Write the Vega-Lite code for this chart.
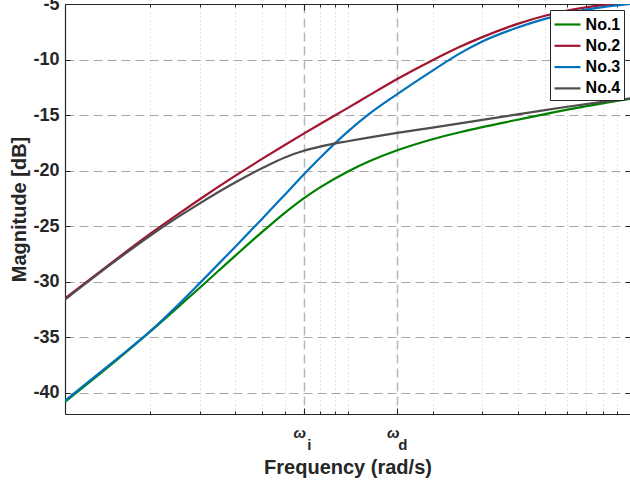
{
  "$schema": "https://vega.github.io/schema/vega-lite/v6.json",
  "width": 565,
  "height": 410,
  "autosize": {"type": "none"},
  "padding": {"left": 65, "top": 4, "right": 0, "bottom": 69},
  "background": "white",
  "config": {
    "view": {"stroke": null},
    "font": "Liberation Sans"
  },
  "data": {
    "values": [
      {"f": 1, "mag": -40.8, "s": "No.1"}, {"f": 1.5, "mag": -37.19, "s": "No.1"}, {"f": 2, "mag": -34.5, "s": "No.1"}, {"f": 2.5, "mag": -32.32, "s": "No.1"}, {"f": 3, "mag": -30.54, "s": "No.1"}, {"f": 4, "mag": -27.67, "s": "No.1"}, {"f": 5, "mag": -25.49, "s": "No.1"}, {"f": 6, "mag": -23.79, "s": "No.1"}, {"f": 7, "mag": -22.49, "s": "No.1"}, {"f": 8, "mag": -21.5, "s": "No.1"}, {"f": 10, "mag": -20.09, "s": "No.1"}, {"f": 12, "mag": -19.14, "s": "No.1"}, {"f": 15, "mag": -18.17, "s": "No.1"}, {"f": 20, "mag": -17.17, "s": "No.1"}, {"f": 25, "mag": -16.54, "s": "No.1"}, {"f": 30, "mag": -16.08, "s": "No.1"}, {"f": 40, "mag": -15.42, "s": "No.1"}, {"f": 50, "mag": -14.91, "s": "No.1"}, {"f": 60, "mag": -14.51, "s": "No.1"}, {"f": 70, "mag": -14.2, "s": "No.1"}, {"f": 80, "mag": -13.94, "s": "No.1"}, {"f": 100, "mag": -13.55, "s": "No.1"},
      {"f": 1, "mag": -31.5, "s": "No.2"}, {"f": 1.5, "mag": -28.07, "s": "No.2"}, {"f": 2, "mag": -25.7, "s": "No.2"}, {"f": 2.5, "mag": -23.96, "s": "No.2"}, {"f": 3, "mag": -22.57, "s": "No.2"}, {"f": 4, "mag": -20.47, "s": "No.2"}, {"f": 5, "mag": -18.92, "s": "No.2"}, {"f": 6, "mag": -17.69, "s": "No.2"}, {"f": 7, "mag": -16.67, "s": "No.2"}, {"f": 8, "mag": -15.8, "s": "No.2"}, {"f": 10, "mag": -14.37, "s": "No.2"}, {"f": 12, "mag": -13.18, "s": "No.2"}, {"f": 15, "mag": -11.75, "s": "No.2"}, {"f": 20, "mag": -10.06, "s": "No.2"}, {"f": 25, "mag": -8.85, "s": "No.2"}, {"f": 30, "mag": -7.98, "s": "No.2"}, {"f": 40, "mag": -6.79, "s": "No.2"}, {"f": 50, "mag": -6.06, "s": "No.2"}, {"f": 60, "mag": -5.6, "s": "No.2"}, {"f": 70, "mag": -5.3, "s": "No.2"}, {"f": 80, "mag": -5.1, "s": "No.2"}, {"f": 100, "mag": -4.88, "s": "No.2"},
      {"f": 1, "mag": -40.7, "s": "No.3"}, {"f": 1.5, "mag": -37.09, "s": "No.3"}, {"f": 2, "mag": -34.47, "s": "No.3"}, {"f": 2.5, "mag": -32.14, "s": "No.3"}, {"f": 3, "mag": -30.12, "s": "No.3"}, {"f": 4, "mag": -26.87, "s": "No.3"}, {"f": 5, "mag": -24.3, "s": "No.3"}, {"f": 6, "mag": -22.16, "s": "No.3"}, {"f": 7, "mag": -20.35, "s": "No.3"}, {"f": 8, "mag": -18.84, "s": "No.3"}, {"f": 10, "mag": -16.51, "s": "No.3"}, {"f": 12, "mag": -14.85, "s": "No.3"}, {"f": 15, "mag": -13.11, "s": "No.3"}, {"f": 20, "mag": -10.99, "s": "No.3"}, {"f": 25, "mag": -9.44, "s": "No.3"}, {"f": 30, "mag": -8.37, "s": "No.3"}, {"f": 40, "mag": -7.12, "s": "No.3"}, {"f": 50, "mag": -6.34, "s": "No.3"}, {"f": 60, "mag": -5.84, "s": "No.3"}, {"f": 70, "mag": -5.51, "s": "No.3"}, {"f": 80, "mag": -5.28, "s": "No.3"}, {"f": 100, "mag": -4.99, "s": "No.3"},
      {"f": 1, "mag": -31.6, "s": "No.4"}, {"f": 1.5, "mag": -28.17, "s": "No.4"}, {"f": 2, "mag": -25.86, "s": "No.4"}, {"f": 2.5, "mag": -24.21, "s": "No.4"}, {"f": 3, "mag": -22.94, "s": "No.4"}, {"f": 4, "mag": -21.07, "s": "No.4"}, {"f": 5, "mag": -19.76, "s": "No.4"}, {"f": 6, "mag": -18.81, "s": "No.4"}, {"f": 7, "mag": -18.21, "s": "No.4"}, {"f": 8, "mag": -17.83, "s": "No.4"}, {"f": 10, "mag": -17.35, "s": "No.4"}, {"f": 12, "mag": -17.0, "s": "No.4"}, {"f": 15, "mag": -16.6, "s": "No.4"}, {"f": 20, "mag": -16.13, "s": "No.4"}, {"f": 25, "mag": -15.75, "s": "No.4"}, {"f": 30, "mag": -15.43, "s": "No.4"}, {"f": 40, "mag": -14.93, "s": "No.4"}, {"f": 50, "mag": -14.55, "s": "No.4"}, {"f": 60, "mag": -14.25, "s": "No.4"}, {"f": 70, "mag": -14.01, "s": "No.4"}, {"f": 80, "mag": -13.81, "s": "No.4"}, {"f": 100, "mag": -13.5, "s": "No.4"}
    ]
  },
  "layer": [
    {
      "mark": {"type": "line", "strokeWidth": 2.2, "interpolate": "monotone", "clip": true},
      "encoding": {
        "x": {
          "field": "f", "type": "quantitative",
          "scale": {"type": "log", "domain": [1, 100], "nice": false},
          "axis": {
            "orient": "bottom",
            "values": [2, 3, 4, 5, 6, 7, 8, 9, 10, 15, 20, 30, 40, 50, 60, 70, 80, 90],
            "title": "Frequency (rad/s)",
            "titleFontSize": 20, "titleFontWeight": "bold", "titleColor": "#262626", "titlePadding": 14,
            "labelExpr": "datum.value == 7 || datum.value == 15 ? '\u03c9' : ''",
            "labelFontSize": 15, "labelFontStyle": "italic", "labelFontWeight": "bold", "labelColor": "#262626",
            "labelAlign": "center", "labelOffset": -4.5,
            "labelPadding": 17, "labelOverlap": false, "labelFlush": false, "labelBound": false,
            "tickSize": {"condition": {"test": "datum.value == 7 || datum.value == 15", "value": -6}, "value": -3},
            "tickColor": "#262626", "tickWidth": 1,
            "grid": true,
            "gridDash": {"condition": {"test": "datum.value == 7 || datum.value == 15", "value": [9, 5]}, "value": [1, 3]},
            "gridColor": {"condition": {"test": "datum.value == 7 || datum.value == 15", "value": "#b8b8b8"}, "value": "#cfcfcf"},
            "gridWidth": {"condition": {"test": "datum.value == 7 || datum.value == 15", "value": 1.5}, "value": 1},
            "domainColor": "#262626", "domainWidth": 1.2
          }
        },
        "y": {
          "field": "mag", "type": "quantitative",
          "scale": {"domain": [-41.9, -5], "nice": false, "zero": false},
          "axis": {
            "orient": "left",
            "values": [-40, -35, -30, -25, -20, -15, -10, -5],
            "title": "Magnitude [dB]",
            "titleFontSize": 20, "titleFontWeight": "bold", "titleColor": "#262626", "titlePadding": 3,
            "labelExpr": "'' + datum.value",
            "labelFontSize": 18, "labelFontWeight": "bold", "labelColor": "#262626", "labelPadding": 11,
            "tickSize": -5, "tickColor": "#262626",
            "grid": true, "gridDash": [9, 5], "gridColor": "#a8a8a8", "gridWidth": 1,
            "domainColor": "#262626", "domainWidth": 1.2
          }
        },
        "color": {
          "field": "s", "type": "nominal",
          "scale": {"domain": ["No.1", "No.2", "No.3", "No.4"], "range": ["#008000", "#a2142f", "#0072bd", "#4d4d4d"]},
          "legend": {
            "orient": "top-right", "offset": 6, "title": null,
            "labelFontSize": 16, "labelFontWeight": "bold", "labelColor": "#000000", "labelOffset": 9.6,
            "symbolType": "M-1.0,0H1.6", "symbolSize": 400, "symbolStrokeWidth": 2.2,
            "rowPadding": 1.3, "padding": 3,
            "fillColor": "white", "strokeColor": "#262626"
          }
        }
      }
    },
    {
      "mark": {"type": "line", "opacity": 0},
      "encoding": {
        "x": {
          "field": "f", "type": "quantitative",
          "axis": {
            "orient": "top", "values": [2, 3, 4, 5, 6, 7, 8, 9, 10, 15, 20, 30, 40, 50, 60, 70, 80, 90],
            "labels": false, "title": null, "grid": false,
            "tickSize": {"condition": {"test": "datum.value == 7 || datum.value == 15", "value": -6}, "value": -3},
            "tickColor": "#262626", "domainColor": "#262626", "domainWidth": 1.2
          }
        },
        "y": {
          "field": "mag", "type": "quantitative",
          "axis": {
            "orient": "right", "values": [-40, -35, -30, -25, -20, -15, -10, -5],
            "labels": false, "title": null, "grid": false, "domain": false,
            "tickSize": -5, "tickColor": "#262626"
          }
        },
        "detail": {"field": "s"}
      }
    },
    {
      "mark": {"type": "line", "opacity": 0},
      "encoding": {
        "x": {
          "field": "f", "type": "quantitative",
          "axis": {
            "orient": "bottom", "values": [7, 15],
            "title": null, "grid": false, "ticks": false, "domain": false,
            "labelExpr": "datum.value == 7 ? 'i' : 'd'",
            "labelFontSize": 15, "labelFontWeight": "bold", "labelColor": "#262626",
            "labelAlign": "center", "labelOffset": 5, "labelPadding": 23,
            "labelOverlap": false, "labelFlush": false, "labelBound": false
          }
        },
        "y": {"field": "mag", "type": "quantitative", "axis": null},
        "detail": {"field": "s"}
      }
    }
  ],
  "resolve": {"axis": {"x": "independent", "y": "independent"}}
}
